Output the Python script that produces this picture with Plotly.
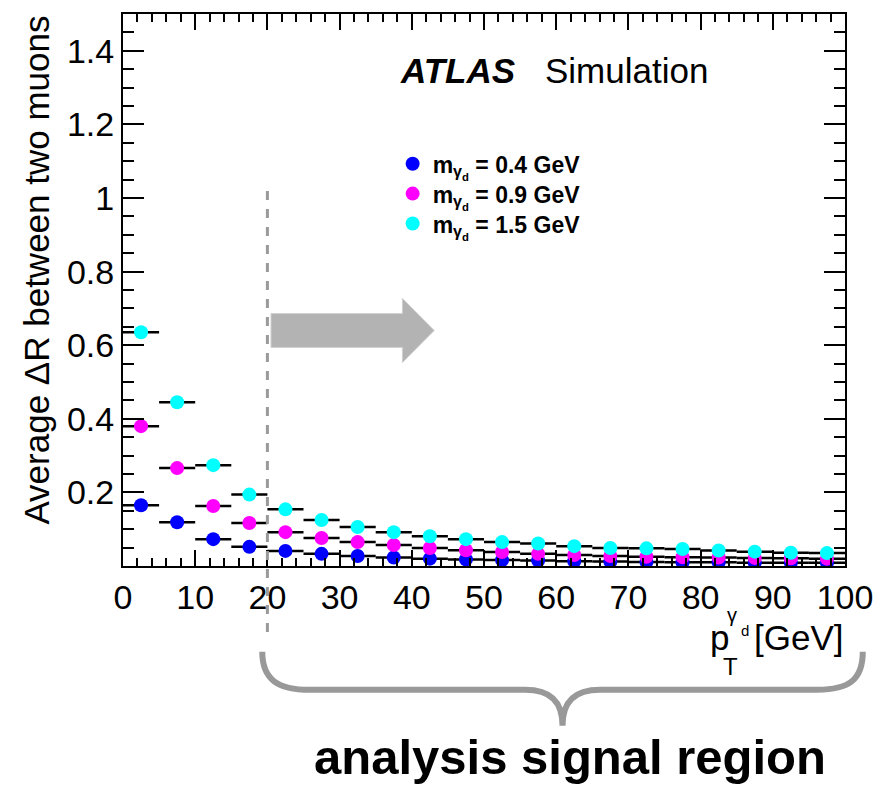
import plotly.graph_objects as go

# Bin centres of the dark-photon pT histogram [GeV] and the half bin width
pt_centers = [2.5, 7.5, 12.5, 17.5, 22.5, 27.5, 32.5, 37.5, 42.5, 47.5,
              52.5, 57.5, 62.5, 67.5, 72.5, 77.5, 82.5, 87.5, 92.5, 97.5]
bin_half_width = [2.5] * len(pt_centers)

# Average Delta R between the two muons, per dark-photon mass hypothesis
dr_m04 = [0.165, 0.119, 0.073, 0.052, 0.041, 0.033, 0.027, 0.023, 0.020, 0.018,
          0.016, 0.015, 0.013, 0.012, 0.011, 0.010, 0.010, 0.009, 0.009, 0.009]
dr_m09 = [0.380, 0.266, 0.163, 0.117, 0.092, 0.076, 0.065, 0.057, 0.049, 0.043,
          0.038, 0.033, 0.030, 0.027, 0.025, 0.024, 0.023, 0.022, 0.021, 0.020]
dr_m15 = [0.635, 0.445, 0.274, 0.194, 0.154, 0.125, 0.106, 0.092, 0.081, 0.073,
          0.065, 0.061, 0.054, 0.049, 0.048, 0.046, 0.042, 0.039, 0.036, 0.035]

series_names = ["m<sub>γ<sub>d</sub></sub> = 0.4 GeV",
                "m<sub>γ<sub>d</sub></sub> = 0.9 GeV",
                "m<sub>γ<sub>d</sub></sub> = 1.5 GeV"]
series_values = [dr_m04, dr_m09, dr_m15]
series_colors = ["#0000ff", "#ff00ff", "#00ffff"]

x_tick_vals = [0, 10, 20, 30, 40, 50, 60, 70, 80, 90, 100]
x_tick_text = ["0", "10", "20", "30", "40", "50", "60", "70", "80", "90", "100"]
y_tick_vals = [0.2, 0.4, 0.6, 0.8, 1.0, 1.2, 1.4]
y_tick_text = ["0.2", "0.4", "0.6", "0.8", "1", "1.2", "1.4"]

signal_region_start = 20

FONT = "Liberation Sans, Arial, Helvetica, sans-serif"
W, H = 885, 789
L, R, T, B = 123, 854, 13, 566
MAIN = 34


def fx(px):
    """Horizontal pixel position -> paper fraction."""
    return (px - L) / (R - L)


def fy(py):
    """Vertical pixel position -> paper fraction."""
    return (B - py) / (B - T)


# one legend box per series so the rows sit at a fixed pitch
legend_ids = ["legend", "legend2", "legend3"]
legend_rows = [163, 193, 223]

fig = go.Figure()
for name, vals, col, lid in zip(series_names, series_values, series_colors, legend_ids):
    fig.add_trace(go.Scatter(
        x=pt_centers, y=vals, mode="markers", name="<b>" + name + "</b>",
        legend=lid,
        marker=dict(color=col, size=14, line=dict(width=0)),
        error_x=dict(type="data", array=bin_half_width, symmetric=True,
                     color="black", thickness=2.5, width=0),
    ))

shapes = []
# dashed boundary of the signal region
shapes.append(dict(type="line", xref="x", yref="paper",
                   x0=signal_region_start, x1=signal_region_start,
                   y0=fy(632), y1=fy(190),
                   line=dict(color="#9a9a9a", width=3, dash="dash"), layer="above"))
# arrow pointing into the signal region
arrow = [(20.5, 0.686), (38.7, 0.686), (38.7, 0.727), (43.1, 0.640),
         (38.7, 0.553), (38.7, 0.594), (20.5, 0.594)]
path = "M " + " L ".join(f"{x},{y}" for x, y in arrow) + " Z"
shapes.append(dict(type="path", xref="x", yref="y", path=path,
                   fillcolor="#b3b3b3", line=dict(color="#d0d0d0", width=1)))
# curly brace under the axis
bp = [(264, 652), (264, 680), (280, 690), (312, 690), (530, 690),
      (556, 690), (568, 702), (568, 726), (568, 702), (580, 690), (606, 690),
      (826, 690), (858, 690), (872, 680), (872, 652)]
P = [(fx(a), fy(b)) for a, b in bp]
brace = (f"M {P[0][0]},{P[0][1]} C {P[1][0]},{P[1][1]} {P[2][0]},{P[2][1]} {P[3][0]},{P[3][1]} "
         f"L {P[4][0]},{P[4][1]} C {P[5][0]},{P[5][1]} {P[6][0]},{P[6][1]} {P[7][0]},{P[7][1]} "
         f"C {P[8][0]},{P[8][1]} {P[9][0]},{P[9][1]} {P[10][0]},{P[10][1]} "
         f"L {P[11][0]},{P[11][1]} C {P[12][0]},{P[12][1]} {P[13][0]},{P[13][1]} {P[14][0]},{P[14][1]}")
shapes.append(dict(type="path", xref="paper", yref="paper", path=brace,
                   line=dict(color="#999999", width=6)))


def label(text, px, py, size, xanchor="left", angle=0):
    return dict(text=text, x=fx(px), y=fy(py), xref="paper", yref="paper",
                xanchor=xanchor, yanchor="middle", textangle=angle, showarrow=False,
                font=dict(family=FONT, size=size, color="black"))


ann = [
    label("<b><i>ATLAS</i></b>", 401, 70, 35),
    label("Simulation", 548, 70, 35),
    label("Average ΔR between two muons", 35, 270, 35, "center", -90),
    # x-axis title p_T^{gamma_d} [GeV]
    label("p", 715, 638, 35),
    label("T", 738, 667, 24, "center"),
    label("γ", 740, 615, 20, "center"),
    label("d", 753, 631, 15, "center"),
    label("[GeV]", 760, 638, 35),
    label("<b>analysis signal region</b>", 576, 757, 49, "center"),
]

legend_common = dict(xanchor="left", yanchor="middle", bgcolor="rgba(0,0,0,0)",
                     font=dict(family=FONT, size=23, color="black"), itemwidth=30)
legends = {lid: dict(x=fx(396), y=fy(row), **legend_common)
           for lid, row in zip(legend_ids, legend_rows)}

fig.update_layout(
    width=W, height=H,
    margin=dict(l=L, r=W - R, t=T, b=H - B, pad=0),
    paper_bgcolor="white", plot_bgcolor="white",
    font=dict(family=FONT, color="black"),
    showlegend=True,
    shapes=shapes, annotations=ann,
    xaxis=dict(range=[0, 100], showgrid=False, zeroline=False,
               showline=True, linecolor="black", linewidth=2, mirror="ticks",
               ticks="inside", ticklen=16, tickwidth=2, tickcolor="black",
               tickvals=x_tick_vals, ticktext=x_tick_text,
               tickfont=dict(family=FONT, size=MAIN, color="black"),
               minor=dict(ticks="inside", ticklen=8, tickwidth=2, tickcolor="black", dtick=2)),
    yaxis=dict(range=[0, 1.5], showgrid=False, zeroline=False,
               showline=True, linecolor="black", linewidth=2, mirror="ticks",
               ticks="inside", ticklen=21, tickwidth=2, tickcolor="black",
               tickvals=y_tick_vals, ticktext=y_tick_text,
               tickfont=dict(family=FONT, size=MAIN, color="black"),
               minor=dict(ticks="inside", ticklen=11, tickwidth=2, tickcolor="black",
                          tick0=0, dtick=0.05)),
    **legends,
)

fig.write_html("out.html")
